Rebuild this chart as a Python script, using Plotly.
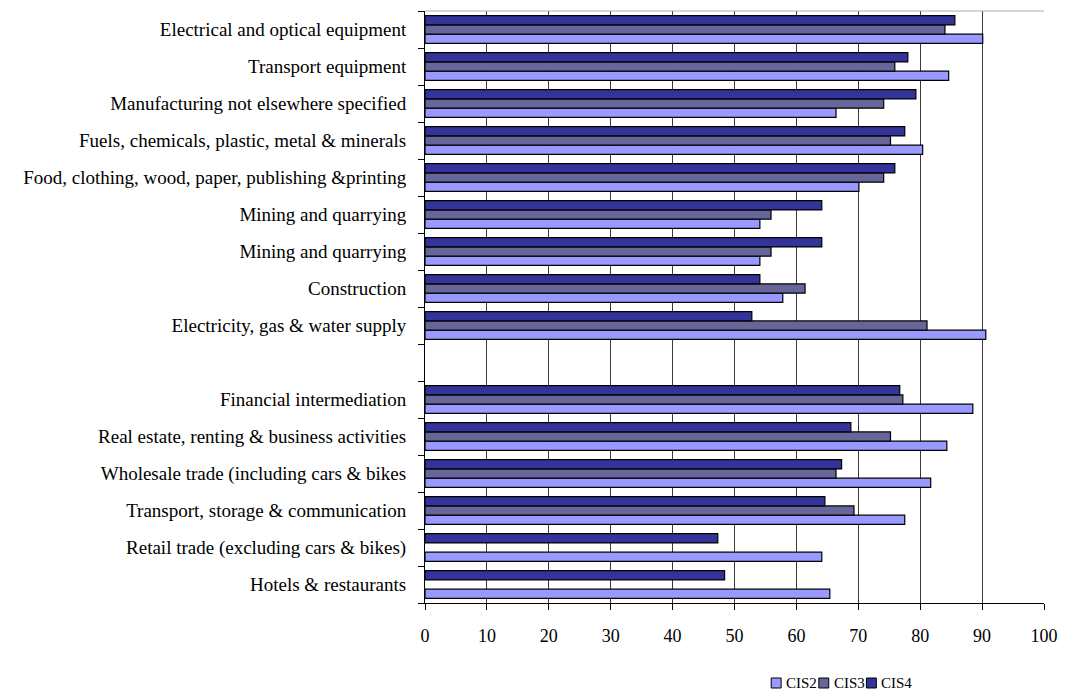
import plotly.graph_objects as go

# Sectors listed from the top of the chart down; "" is the spacer row
sectors = [
    "Electrical and optical equipment",
    "Transport equipment",
    "Manufacturing not elsewhere specified",
    "Fuels, chemicals, plastic, metal & minerals",
    "Food, clothing, wood, paper, publishing &printing",
    "Mining and quarrying",
    "Mining and quarrying",
    "Construction",
    "Electricity, gas & water supply",
    "",
    "Financial intermediation",
    "Real estate, renting & business activities",
    "Wholesale trade (including cars & bikes",
    "Transport, storage & communication",
    "Retail trade (excluding cars & bikes)",
    "Hotels & restaurants",
]

cis2 = [90.1, 84.6, 66.4, 80.4, 70.1, 54.1, 54.1, 57.8, 90.6, None,
        88.5, 84.3, 81.7, 77.5, 64.1, 65.4]
cis3 = [84.0, 75.9, 74.1, 75.2, 74.1, 55.9, 55.9, 61.4, 81.1, None,
        77.2, 75.2, 66.4, 69.3, None, None]
cis4 = [85.6, 78.0, 79.3, 77.5, 75.9, 64.1, 64.1, 54.1, 52.8, None,
        76.7, 68.8, 67.3, 64.6, 47.3, 48.4]

series_names = ["CIS2", "CIS3", "CIS4"]
series_values = [cis2, cis3, cis4]
series_colors = ["#9999FF", "#666699", "#333399"]

x_ticks = list(range(0, 101, 10))

# Row positions: first sector sits at the top
n = len(sectors)
rows = [n - 1 - i for i in range(n)]

serif = "Liberation Serif, Times New Roman, serif"

W, H = 1069, 698
M_L, M_R, M_T, M_B = 425, 20, 11, 95
plot_w = W - M_L - M_R
plot_h = H - M_T - M_B

fig = go.Figure()
for name, vals, color in zip(series_names, series_values, series_colors):
    fig.add_trace(go.Bar(
        name=name,
        x=vals,
        y=rows,
        orientation="h",
        marker=dict(color=color, line=dict(color="black", width=1.2)),
        showlegend=False,
    ))

fig.update_layout(
    width=W,
    height=H,
    margin=dict(l=M_L, r=M_R, t=M_T, b=M_B),
    paper_bgcolor="white",
    plot_bgcolor="white",
    barmode="group",
    bargap=0.25,
    bargroupgap=0,
    font=dict(family=serif, size=16, color="black"),
    xaxis=dict(
        range=[0, 100],
        tickmode="array",
        tickvals=x_ticks,
        ticktext=[str(v) for v in x_ticks],
        ticks="outside",
        ticklen=6,
        tickcolor="black",
        ticklabelstandoff=10,
        showgrid=True,
        gridcolor="#3a3a3a",
        gridwidth=1,
        showline=True,
        linecolor="black",
        linewidth=1,
        zeroline=False,
        tickfont=dict(family=serif, size=18, color="black"),
    ),
    yaxis=dict(
        range=[-0.5, n - 0.5],
        tickmode="array",
        tickvals=rows,
        ticktext=sectors,
        ticks="outside",
        ticklen=0,
        ticklabelstandoff=14,
        showgrid=False,
        showline=True,
        linecolor="black",
        linewidth=1,
        zeroline=False,
        minor=dict(
            tickmode="linear",
            tick0=-0.5,
            dtick=1,
            ticks="outside",
            ticklen=6,
            tickcolor="black",
            showgrid=False,
        ),
        tickfont=dict(family=serif, size=19, color="black"),
    ),
)

# Light frame along the top of the plot area
fig.add_shape(
    type="line", xref="paper", yref="paper",
    x0=0, x1=1, y0=1, y1=1,
    line=dict(color="#b0b0b0", width=1),
)

# Compact legend row under the axis: small outlined swatch + series name
def px_x(px):
    return (px - M_L) / plot_w

def px_y(py):
    return (H - M_B - py) / plot_h

legend_left, legend_step, legend_mid, sw = 774, 48, 683, 10
for i, (name, color) in enumerate(zip(series_names, series_colors)):
    left = legend_left + i * legend_step
    fig.add_shape(
        type="rect", xref="paper", yref="paper",
        x0=px_x(left), x1=px_x(left + sw),
        y0=px_y(legend_mid + sw / 2), y1=px_y(legend_mid - sw / 2),
        fillcolor=color, line=dict(color="black", width=1),
    )
    fig.add_annotation(
        xref="paper", yref="paper",
        x=px_x(left + sw + 3), y=px_y(legend_mid),
        xanchor="left", yanchor="middle",
        text=name, showarrow=False,
        font=dict(family=serif, size=15, color="black"),
    )

fig.write_html("out.html")
